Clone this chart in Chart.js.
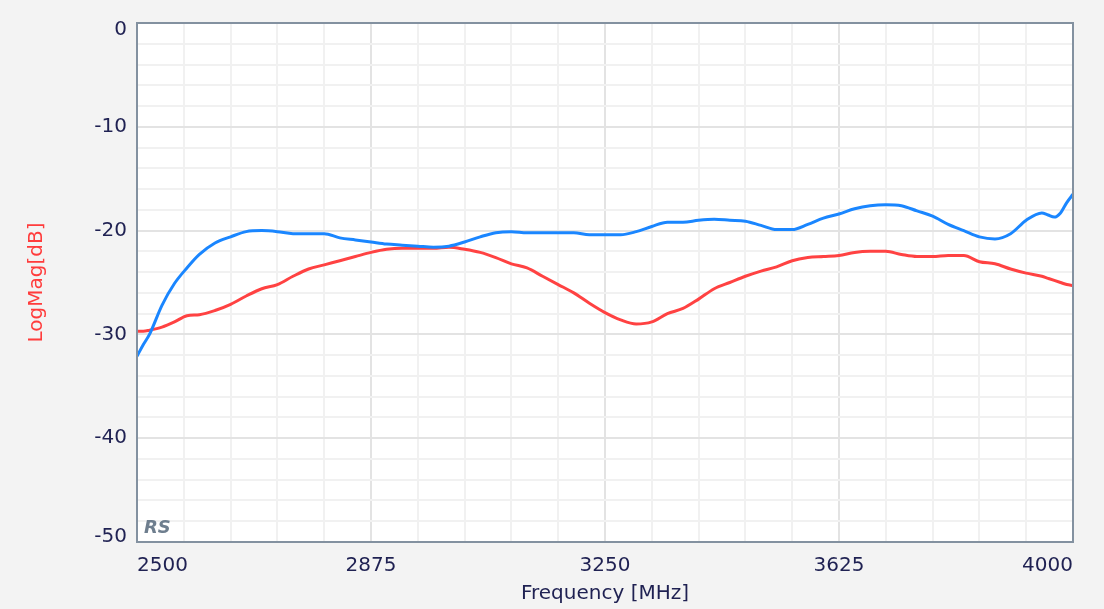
<!DOCTYPE html>
<html>
<head>
<meta charset="utf-8">
<script src="https://cdn.jsdelivr.net/npm/chart.js@4/dist/chart.umd.min.js"></script>
<style>
  html, body { margin: 0; padding: 0; background: #f3f3f3; }
</style>
</head>
<body>
<canvas id="displayGraph" width="1104" height="609"></canvas>
<script>
//******************************************************************** Données *****************************************************************

// fréquences en MHz
const FREQS = [2500, 2510, 2520, 2540, 2560, 2580, 2600, 2625, 2650, 2675, 2700, 2725, 2750, 2775, 2800, 2825, 2850, 2875, 2900, 2925, 2950, 2975, 3000, 3025, 3050, 3075, 3100, 3125, 3150, 3175, 3200, 3225, 3250, 3275, 3300, 3325, 3350, 3375, 3400, 3425, 3450, 3475, 3500, 3525, 3550, 3575, 3600, 3625, 3650, 3675, 3700, 3725, 3750, 3775, 3800, 3825, 3850, 3875, 3900, 3925, 3950, 3960, 3970, 3980, 3990, 4000]

// trace rouge en dB
const RED_DB = [-29.7, -29.7, -29.6, -29.3, -28.8, -28.2, -28.1, -27.7, -27.1, -26.3, -25.6, -25.2, -24.4, -23.7, -23.3, -22.9, -22.5, -22.1, -21.8, -21.7, -21.7, -21.7, -21.6, -21.8, -22.1, -22.6, -23.2, -23.6, -24.4, -25.2, -26.0, -27.0, -27.9, -28.6, -29.0, -28.8, -28.0, -27.5, -26.6, -25.6, -25.0, -24.4, -23.9, -23.5, -22.9, -22.6, -22.5, -22.4, -22.1, -22.0, -22.0, -22.3, -22.5, -22.5, -22.4, -22.4, -23.0, -23.2, -23.7, -24.1, -24.4, -24.6, -24.8, -25.0, -25.2, -25.3]

// trace bleue en dB
const BLUE_DB = [-32.1, -31.0, -30.0, -27.2, -25.1, -23.6, -22.3, -21.2, -20.6, -20.1, -20.0, -20.1, -20.3, -20.3, -20.3, -20.7, -20.9, -21.1, -21.3, -21.4, -21.5, -21.6, -21.5, -21.1, -20.6, -20.2, -20.1, -20.2, -20.2, -20.2, -20.2, -20.4, -20.4, -20.4, -20.1, -19.6, -19.2, -19.2, -19.0, -18.9, -19.0, -19.1, -19.5, -19.9, -19.9, -19.4, -18.8, -18.4, -17.9, -17.6, -17.5, -17.6, -18.1, -18.6, -19.4, -20.0, -20.6, -20.8, -20.3, -19.0, -18.3, -18.5, -18.7, -18.3, -17.3, -16.5]

const XTICKS = [2500, 2875, 3250, 3625, 4000] // étiquettes de l'axe X
const YTICKS = [0, -10, -20, -30, -40, -50] // étiquettes de l'axe Y

const TEXTCOLOR = '#1f2152'
const FONT = 'DejaVu Sans'

//******************************************************************** Plugins *****************************************************************

// fond blanc de la zone de tracé
const plotBackground = {
  id: 'plotBackground',
  beforeDraw(chart) {
    const { ctx, chartArea: a } = chart
    ctx.save()
    ctx.fillStyle = '#ffffff'
    ctx.fillRect(a.left, a.top, a.right - a.left, a.bottom - a.top)
    ctx.restore()
  }
}

// cadre autour de la zone + petit logo RS
const plotFrame = {
  id: 'plotFrame',
  afterDatasetsDraw(chart) {
    const { ctx, chartArea: a } = chart
    ctx.save()
    ctx.strokeStyle = '#8391a0'
    ctx.lineWidth = 2
    ctx.strokeRect(a.left, a.top, a.right - a.left, a.bottom - a.top)
    ctx.fillStyle = '#6e7e8e'
    ctx.font = 'italic bold 18px ' + FONT
    ctx.textBaseline = 'bottom'
    ctx.fillText('RS', a.left + 7, a.bottom - 5)
    ctx.restore()
  }
}

//******************************************************************** Graphe *****************************************************************

document.addEventListener('DOMContentLoaded', function () {
  const data = {
    datasets: [
      {
        label: 'Bleu',
        data: FREQS.map((f, i) => ({ x: f, y: BLUE_DB[i] })),
        borderColor: '#1a86ff',
        borderWidth: 3,
        pointRadius: 0,
        cubicInterpolationMode: 'monotone'
      },
      {
        label: 'Rouge',
        data: FREQS.map((f, i) => ({ x: f, y: RED_DB[i] })),
        borderColor: '#ff4242',
        borderWidth: 3,
        pointRadius: 0,
        cubicInterpolationMode: 'monotone'
      }
    ]
  }

  const config = {
    type: 'line',
    data: data,
    plugins: [plotBackground, plotFrame],
    options: {
      responsive: false,
      animation: false,
      devicePixelRatio: 1,
      layout: { padding: { top: 20, right: 31, bottom: 0, left: 0 } },
      plugins: {
        legend: { display: false },
        tooltip: { enabled: false }
      },
      scales: {
        x: {
          type: 'linear',
          min: 2500,
          max: 4000,
          afterFit: (scale) => { scale.height = 67 },
          border: { display: false },
          grid: {
            drawTicks: false,
            lineWidth: 2,
            color: (ctx) => XTICKS.includes(ctx.tick.value) ? '#e3e3e3' : '#f1f1f1'
          },
          ticks: {
            stepSize: 75,
            autoSkip: false,
            maxRotation: 0,
            align: 'inner',
            padding: 12,
            color: TEXTCOLOR,
            font: { family: FONT, size: 20 },
            callback: (v) => XTICKS.includes(v) ? String(v) : ''
          },
          title: {
            display: true,
            text: 'Frequency [MHz]',
            color: TEXTCOLOR,
            font: { family: FONT, size: 20 },
            padding: { top: 0, bottom: 3 }
          }
        },
        y: {
          min: -50,
          max: 0,
          afterFit: (scale) => { scale.width = 137 },
          border: { display: false },
          grid: {
            drawTicks: false,
            lineWidth: 2,
            color: (ctx) => YTICKS.includes(ctx.tick.value) ? '#e3e3e3' : '#f1f1f1'
          },
          ticks: {
            stepSize: 2,
            autoSkip: false,
            padding: 10,
            color: TEXTCOLOR,
            // les étiquettes du haut et du bas sont rentrées dans la zone comme sur l'original
            font: (ctx) => ({
              family: FONT,
              size: 20,
              lineHeight: ctx.tick && ctx.tick.value === 0 ? '13px' : (ctx.tick && ctx.tick.value === -50 ? '11px' : 1.2)
            }),
            callback: (v) => {
              if (!YTICKS.includes(v)) return ''
              if (v === 0) return ['', '0']
              if (v === -50) return ['-50', '']
              return String(v)
            }
          },
          title: {
            display: true,
            text: 'LogMag[dB]',
            color: '#ff3c3c',
            font: { family: FONT, size: 20 },
            padding: { top: 25, bottom: 0 }
          }
        }
      }
    }
  }

  const DISPLAYGRAPH = document.getElementById('displayGraph')
  new Chart(DISPLAYGRAPH, config)
})
</script>
</body>
</html>
